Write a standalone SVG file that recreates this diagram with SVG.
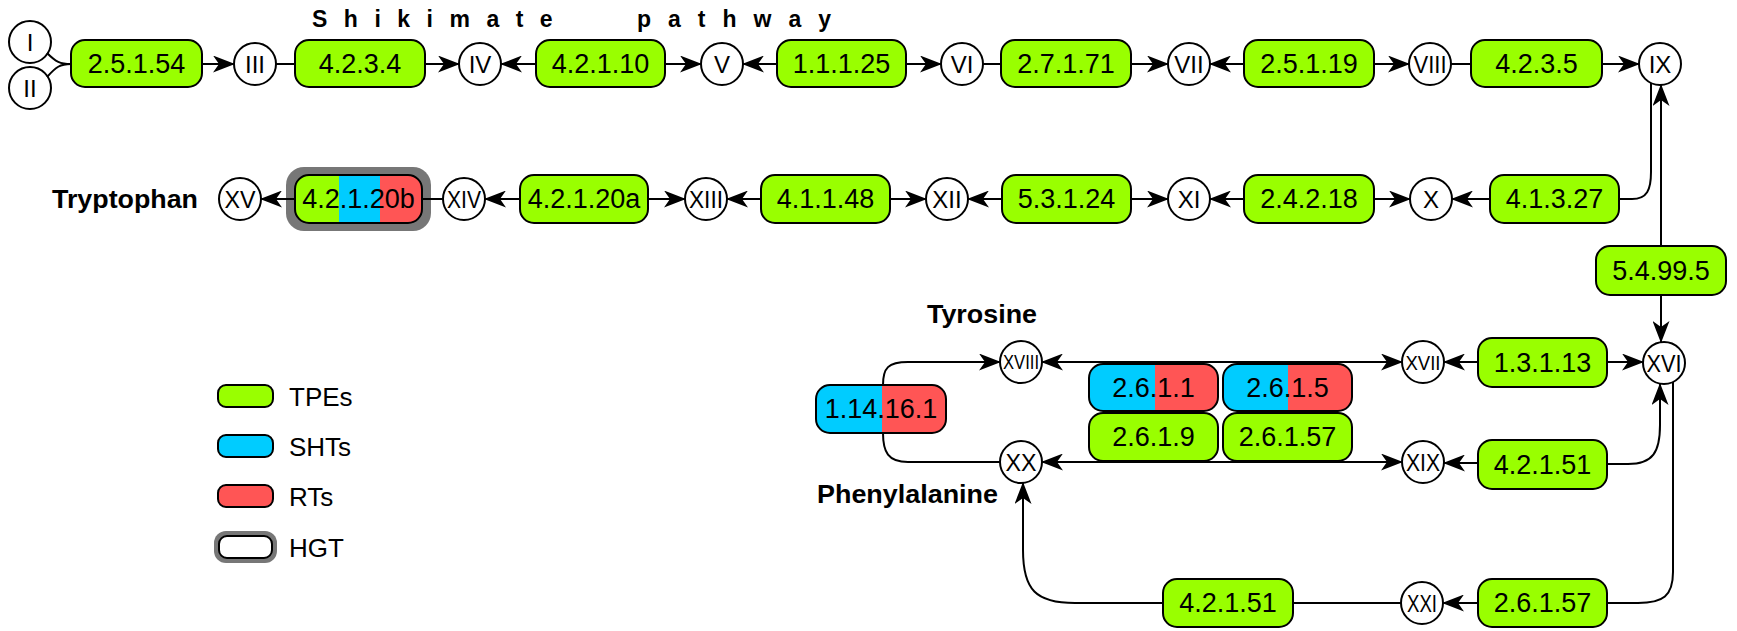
<svg xmlns="http://www.w3.org/2000/svg" width="1737" height="631" viewBox="0 0 1737 631">
<defs>
<style>
.bx{stroke:#000;stroke-width:2}
.g{fill:#99ff00}.b{fill:#00ccff}.r{fill:#ff5555}
.ol{fill:none;stroke:#000;stroke-width:2}
.c{fill:#fff;stroke:#000;stroke-width:2}
text{font-family:"Liberation Sans",Arial,sans-serif;fill:#000}
.t{font-size:27px;text-anchor:middle;dominant-baseline:central}
.rn{font-size:24px;text-anchor:middle;dominant-baseline:central}
.bold{font-weight:bold;font-size:26px}
.leg{font-size:26px}
.e{fill:none;stroke:#000;stroke-width:2}
.a{marker-end:url(#arr)}
.aa{marker-end:url(#arr);marker-start:url(#arr)}
</style>
<marker id="arr" viewBox="0 0 22 17" refX="21" refY="8.5" markerWidth="22" markerHeight="17" markerUnits="userSpaceOnUse" orient="auto-start-reverse">
<path d="M0,0 L22,8.5 L0,17 L6,8.5 Z" fill="#000"/>
</marker>
</defs>
<rect width="1737" height="631" fill="#fff"/>

<text x="312" y="27" class="bold" style="font-size:23px;letter-spacing:16.5px">Shikimate</text>
<text x="637" y="27" class="bold" style="font-size:23px;letter-spacing:17px">pathway</text>
<text x="52" y="208" class="bold" textLength="146" lengthAdjust="spacingAndGlyphs">Tryptophan</text>
<text x="927" y="323" class="bold" textLength="110" lengthAdjust="spacingAndGlyphs">Tyrosine</text>
<text x="817" y="503" class="bold" textLength="181" lengthAdjust="spacingAndGlyphs">Phenylalanine</text>

<!-- row 1 -->
<g id="nI"><circle class="c" cx="30" cy="42" r="21"/><text class="rn" x="30" y="42">I</text></g>
<g id="nII"><circle class="c" cx="30" cy="88" r="21"/><text class="rn" x="30" y="88">II</text></g>
<g id="e2.5.1.54"><rect class="bx g" x="71" y="40" width="131" height="47" rx="14"/><text class="t" x="136.5" y="64">2.5.1.54</text></g>
<g id="nIII"><circle class="c" cx="255" cy="64" r="21"/><text class="rn" x="255" y="64">III</text></g>
<g id="e4.2.3.4"><rect class="bx g" x="295" y="40" width="130" height="47" rx="14"/><text class="t" x="360" y="64">4.2.3.4</text></g>
<g id="nIV"><circle class="c" cx="480" cy="64" r="21"/><text class="rn" x="480" y="64">IV</text></g>
<g id="e4.2.1.10"><rect class="bx g" x="536" y="40" width="129" height="47" rx="14"/><text class="t" x="600.5" y="64">4.2.1.10</text></g>
<g id="nV"><circle class="c" cx="722" cy="64" r="21"/><text class="rn" x="722" y="64">V</text></g>
<g id="e1.1.1.25"><rect class="bx g" x="777" y="40" width="129" height="47" rx="14"/><text class="t" x="841.5" y="64">1.1.1.25</text></g>
<g id="nVI"><circle class="c" cx="962" cy="64" r="21"/><text class="rn" x="962" y="64">VI</text></g>
<g id="e2.7.1.71"><rect class="bx g" x="1001" y="40" width="130" height="47" rx="14"/><text class="t" x="1066" y="64">2.7.1.71</text></g>
<g id="nVII"><circle class="c" cx="1189" cy="64" r="21"/><text class="rn" x="1189" y="64">VII</text></g>
<g id="e2.5.1.19"><rect class="bx g" x="1244" y="40" width="130" height="47" rx="14"/><text class="t" x="1309" y="64">2.5.1.19</text></g>
<g id="nVIII"><circle class="c" cx="1430" cy="64" r="21"/><text class="rn" x="1430" y="64" textLength="33" lengthAdjust="spacingAndGlyphs">VIII</text></g>
<g id="e4.2.3.5"><rect class="bx g" x="1471" y="40" width="131" height="47" rx="14"/><text class="t" x="1536.5" y="64">4.2.3.5</text></g>
<g id="nIX"><circle class="c" cx="1660" cy="64" r="21"/><text class="rn" x="1660" y="64">IX</text></g>

<!-- row 2 -->
<g id="nXV"><circle class="c" cx="240" cy="199" r="21"/><text class="rn" x="240" y="199" textLength="31" lengthAdjust="spacingAndGlyphs">XV</text></g>
<g id="e4.2.1.20b">
<rect x="286" y="167" width="145" height="64" rx="18" fill="#777"/>
<rect class="g" x="295" y="175" width="127" height="48" rx="14"/>
<rect class="b" x="339" y="175" width="41" height="48"/>
<path class="r" d="M380,175 H408 A14,14 0 0 1 422,189 V209 A14,14 0 0 1 408,223 H380 Z"/>
<rect class="ol" x="295" y="175" width="127" height="48" rx="14"/>
<text class="t" x="358.5" y="199">4.2.1.20b</text></g>
<g id="nXIV"><circle class="c" cx="464" cy="199" r="21"/><text class="rn" x="464" y="199" textLength="34" lengthAdjust="spacingAndGlyphs">XIV</text></g>
<g id="e4.2.1.20a"><rect class="bx g" x="520" y="175" width="128" height="48" rx="14"/><text class="t" x="584" y="199">4.2.1.20a</text></g>
<g id="nXIII"><circle class="c" cx="706" cy="199" r="21"/><text class="rn" x="706" y="199" textLength="34" lengthAdjust="spacingAndGlyphs">XIII</text></g>
<g id="e4.1.1.48"><rect class="bx g" x="761" y="175" width="129" height="48" rx="14"/><text class="t" x="825.5" y="199">4.1.1.48</text></g>
<g id="nXII"><circle class="c" cx="947" cy="199" r="21"/><text class="rn" x="947" y="199">XII</text></g>
<g id="e5.3.1.24"><rect class="bx g" x="1002" y="175" width="129" height="48" rx="14"/><text class="t" x="1066.5" y="199">5.3.1.24</text></g>
<g id="nXI"><circle class="c" cx="1189" cy="199" r="21"/><text class="rn" x="1189" y="199">XI</text></g>
<g id="e2.4.2.18"><rect class="bx g" x="1244" y="175" width="130" height="48" rx="14"/><text class="t" x="1309" y="199">2.4.2.18</text></g>
<g id="nX"><circle class="c" cx="1431" cy="199" r="21"/><text class="rn" x="1431" y="199">X</text></g>
<g id="e4.1.3.27"><rect class="bx g" x="1490" y="175" width="129" height="48" rx="14"/><text class="t" x="1554.5" y="199">4.1.3.27</text></g>

<g id="e5.4.99.5"><rect class="bx g" x="1596" y="246" width="130" height="49" rx="14"/><text class="t" x="1661" y="270.5">5.4.99.5</text></g>

<!-- lower -->
<g id="nXVIII"><circle class="c" cx="1021" cy="362" r="21"/><text class="rn" x="1021" y="362" textLength="36" lengthAdjust="spacingAndGlyphs" style="font-size:20px">XVIII</text></g>
<g id="nXVII"><circle class="c" cx="1423" cy="362" r="21"/><text class="rn" x="1423" y="362" textLength="35" lengthAdjust="spacingAndGlyphs" style="font-size:21px">XVII</text></g>
<g id="nXVI"><circle class="c" cx="1664" cy="363" r="21"/><text class="rn" x="1664" y="363" textLength="35" lengthAdjust="spacingAndGlyphs">XVI</text></g>
<g id="e1.3.1.13"><rect class="bx g" x="1478" y="338" width="129" height="49" rx="14"/><text class="t" x="1542.5" y="362.5">1.3.1.13</text></g>
<g id="e1.14.16.1">
<rect class="b" x="816" y="385" width="130" height="48" rx="14"/>
<path class="r" d="M882,385 H932 A14,14 0 0 1 946,399 V419 A14,14 0 0 1 932,433 H882 Z"/>
<rect class="ol" x="816" y="385" width="130" height="48" rx="14"/>
<text class="t" x="881" y="409">1.14.16.1</text></g>
<g id="e2.6.1.1">
<rect class="b" x="1089" y="364" width="129" height="47" rx="14"/>
<path class="r" d="M1155,364 H1204 A14,14 0 0 1 1218,378 V397 A14,14 0 0 1 1204,411 H1155 Z"/>
<rect class="ol" x="1089" y="364" width="129" height="47" rx="14"/>
<text class="t" x="1153.5" y="387.5">2.6.1.1</text></g>
<g id="e2.6.1.5">
<rect class="b" x="1223" y="364" width="129" height="47" rx="14"/>
<path class="r" d="M1288,364 H1338 A14,14 0 0 1 1352,378 V397 A14,14 0 0 1 1338,411 H1288 Z"/>
<rect class="ol" x="1223" y="364" width="129" height="47" rx="14"/>
<text class="t" x="1287.5" y="387.5">2.6.1.5</text></g>
<g id="e2.6.1.9"><rect class="bx g" x="1089" y="413" width="129" height="48" rx="14"/><text class="t" x="1153.5" y="437">2.6.1.9</text></g>
<g id="e2.6.1.57a"><rect class="bx g" x="1223" y="413" width="129" height="48" rx="14"/><text class="t" x="1287.5" y="437">2.6.1.57</text></g>
<g id="nXX"><circle class="c" cx="1021" cy="462" r="21"/><text class="rn" x="1021" y="462" textLength="31" lengthAdjust="spacingAndGlyphs">XX</text></g>
<g id="nXIX"><circle class="c" cx="1423" cy="462" r="21"/><text class="rn" x="1423" y="462" textLength="34" lengthAdjust="spacingAndGlyphs">XIX</text></g>
<g id="e4.2.1.51a"><rect class="bx g" x="1478" y="440" width="129" height="49" rx="14"/><text class="t" x="1542.5" y="464.5">4.2.1.51</text></g>
<g id="e4.2.1.51b"><rect class="bx g" x="1163" y="579" width="130" height="48" rx="14"/><text class="t" x="1228" y="603">4.2.1.51</text></g>
<g id="nXXI"><circle class="c" cx="1422" cy="603" r="21"/><text class="rn" x="1422" y="603" textLength="30" lengthAdjust="spacingAndGlyphs">XXI</text></g>
<g id="e2.6.1.57b"><rect class="bx g" x="1478" y="579" width="129" height="48" rx="14"/><text class="t" x="1542.5" y="603">2.6.1.57</text></g>

<!-- legend -->
<g id="legend">
<rect class="bx g" x="218" y="385" width="55" height="22" rx="8"/><text class="leg" x="289" y="406">TPEs</text>
<rect class="bx b" x="218" y="435" width="55" height="22" rx="8"/><text class="leg" x="289" y="456">SHTs</text>
<rect class="bx r" x="218" y="485" width="55" height="22" rx="8"/><text class="leg" x="289" y="506">RTs</text>
<rect x="214" y="531" width="63" height="32" rx="12" fill="#777"/>
<rect x="219" y="536" width="53" height="22" rx="8" fill="#fff" stroke="#000" stroke-width="2"/><text class="leg" x="289" y="557">HGT</text>
</g>

<g id="connectors">
<path class="e" d="M47,53 C56,62 60,64 71,64"/>
<path class="e" d="M47,77 C56,67 60,64 71,64"/>
<path class="e a" d="M202,64 L234,64"/>
<path class="e" d="M276,64 L295,64"/>
<path class="e a" d="M425,64 L459,64"/>
<path class="e a" d="M536,64 L501,64"/>
<path class="e a" d="M665,64 L701,64"/>
<path class="e a" d="M777,64 L743,64"/>
<path class="e a" d="M906,64 L941,64"/>
<path class="e" d="M983,64 L1001,64"/>
<path class="e a" d="M1131,64 L1168,64"/>
<path class="e a" d="M1244,64 L1210,64"/>
<path class="e a" d="M1374,64 L1409,64"/>
<path class="e" d="M1451,64 L1471,64"/>
<path class="e a" d="M1602,64 L1639,64"/>

<path class="e" d="M1619,199 L1632,199 C1647,199 1651,190 1651,172 L1651,83"/>
<path class="e a" d="M1661,246 L1661,85"/>
<path class="e a" d="M1661,295 L1661,342"/>
<path class="e a" d="M1490,199 L1452,199"/>
<path class="e a" d="M1374,199 L1410,199"/>
<path class="e a" d="M1244,199 L1210,199"/>
<path class="e a" d="M1131,199 L1168,199"/>
<path class="e a" d="M1002,199 L968,199"/>
<path class="e a" d="M890,199 L926,199"/>
<path class="e a" d="M761,199 L727,199"/>
<path class="e a" d="M648,199 L685,199"/>
<path class="e a" d="M520,199 L485,199"/>
<path class="e" d="M443,199 L422,199"/>
<path class="e a" d="M295,199 L261,199"/>

<path class="e a" d="M883,385 C883,368 888,362 908,362 L1000,362"/>
<path class="e" d="M883,433 C883,452 888,462 908,462 L1000,462"/>
<path class="e aa" d="M1042,362 L1402,362"/>
<path class="e aa" d="M1042,462 L1402,462"/>
<path class="e a" d="M1478,362 L1444,362"/>
<path class="e a" d="M1607,362 L1643,362"/>
<path class="e a" d="M1478,463 L1444,463"/>
<path class="e a" d="M1607,464 L1628,464 C1653,464 1660,452 1660,425 L1660,384"/>
<path class="e" d="M1673,382 L1673,572 C1673,596 1663,603 1638,603 L1607,603"/>
<path class="e a" d="M1478,603 L1443,603"/>
<path class="e" d="M1401,603 L1293,603"/>
<path class="e a" d="M1163,603 L1075,603 C1036,603 1023,590 1023,550 L1023,483"/>
</g>
</svg>
